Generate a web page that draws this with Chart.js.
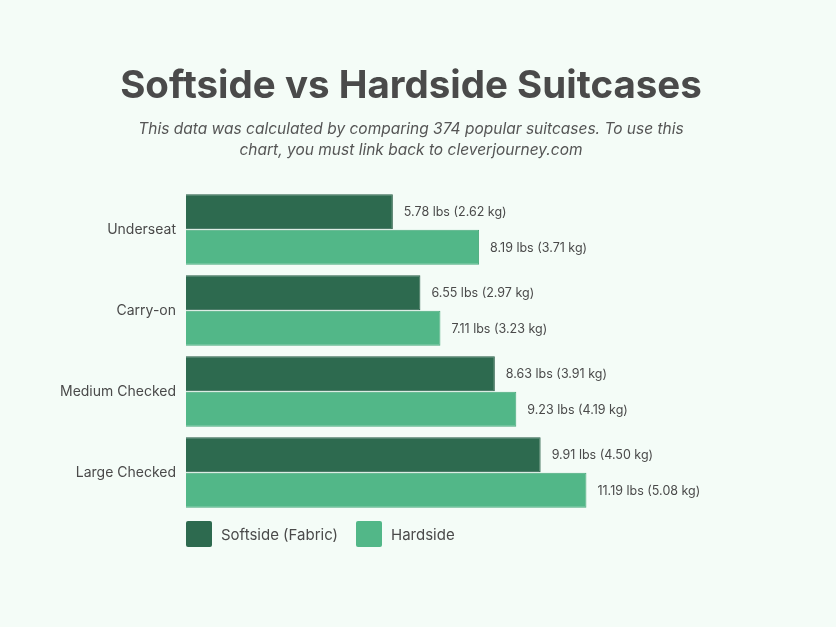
<!DOCTYPE html>
<html><head><meta charset="utf-8">
<script src="https://cdn.jsdelivr.net/npm/chart.js"></script>
<style>
body{margin:0;background:#f4fcf7;font-family:Inter,sans-serif;}
#wrap{position:relative;width:836px;height:627px;}
canvas{position:absolute;left:0;top:0;}
.t{position:absolute;left:0;width:822px;text-align:center;color:#4a4a4a;}
#title{top:61px;font-size:38.5px;font-weight:700;}
#sub{top:118px;font-size:15.5px;font-style:italic;line-height:21px;color:#555;}
.lg{position:absolute;top:521px;height:26px;display:flex;align-items:center;font-size:15px;color:#4a4a4a;}
.lg span{display:inline-block;width:26px;height:26px;margin-right:9px;border-radius:2px;}
</style></head><body>
<div id="wrap">
<canvas id="c" width="836" height="627"></canvas>
<div class="t" id="title">Softside vs Hardside Suitcases</div>
<div class="t" id="sub">This data was calculated by comparing 374 popular suitcases. To use this<br>chart, you must link back to cleverjourney.com</div>
<div class="lg" style="left:186px"><span style="background:#2d6a4f"></span>Softside (Fabric)</div>
<div class="lg" style="left:356px"><span style="background:#52b788"></span>Hardside</div>
</div>
<script>
const categories=["Underseat","Carry-on","Medium Checked","Large Checked"];
const softside=[5.78,6.55,8.63,9.91];
const hardside=[8.19,7.11,9.23,11.19];
const softLabels=["5.78 lbs (2.62 kg)","6.55 lbs (2.97 kg)","8.63 lbs (3.91 kg)","9.91 lbs (4.50 kg)"];
const hardLabels=["8.19 lbs (3.71 kg)","7.11 lbs (3.23 kg)","9.23 lbs (4.19 kg)","11.19 lbs (5.08 kg)"];
const valLabels=[softLabels,hardLabels];
const labelPlugin={id:'vl',afterDatasetsDraw(ch){const c=ch.ctx;c.save();c.font='12.5px Inter';c.fillStyle='#4a4a4a';c.textBaseline='middle';
ch.data.datasets.forEach((d,i)=>{ch.getDatasetMeta(i).data.forEach((b,j)=>{c.fillText(valLabels[i][j],b.x+11,b.y+1);});});c.restore();}};
new Chart(document.getElementById('c'),{type:'bar',
data:{labels:categories,datasets:[
{label:'Softside (Fabric)',data:softside,backgroundColor:'#2d6a4f',borderColor:'#275c45',borderWidth:1,barPercentage:0.98,categoryPercentage:0.88},
{label:'Hardside',data:hardside,backgroundColor:'#52b788',borderColor:'#48a87a',borderWidth:1,barPercentage:0.98,categoryPercentage:0.88}]},
options:{indexAxis:'y',responsive:false,animation:false,
layout:{padding:{left:0,right:149,top:189,bottom:114}},
plugins:{legend:{display:false},tooltip:{enabled:false}},
scales:{x:{display:false,min:0,max:14},
y:{grid:{display:false},border:{display:false},afterFit(s){s.width=186;},
ticks:{color:'#4a4a4a',font:{family:'Inter',size:14},padding:2}}}},
plugins:[labelPlugin]});
</script></body></html>
